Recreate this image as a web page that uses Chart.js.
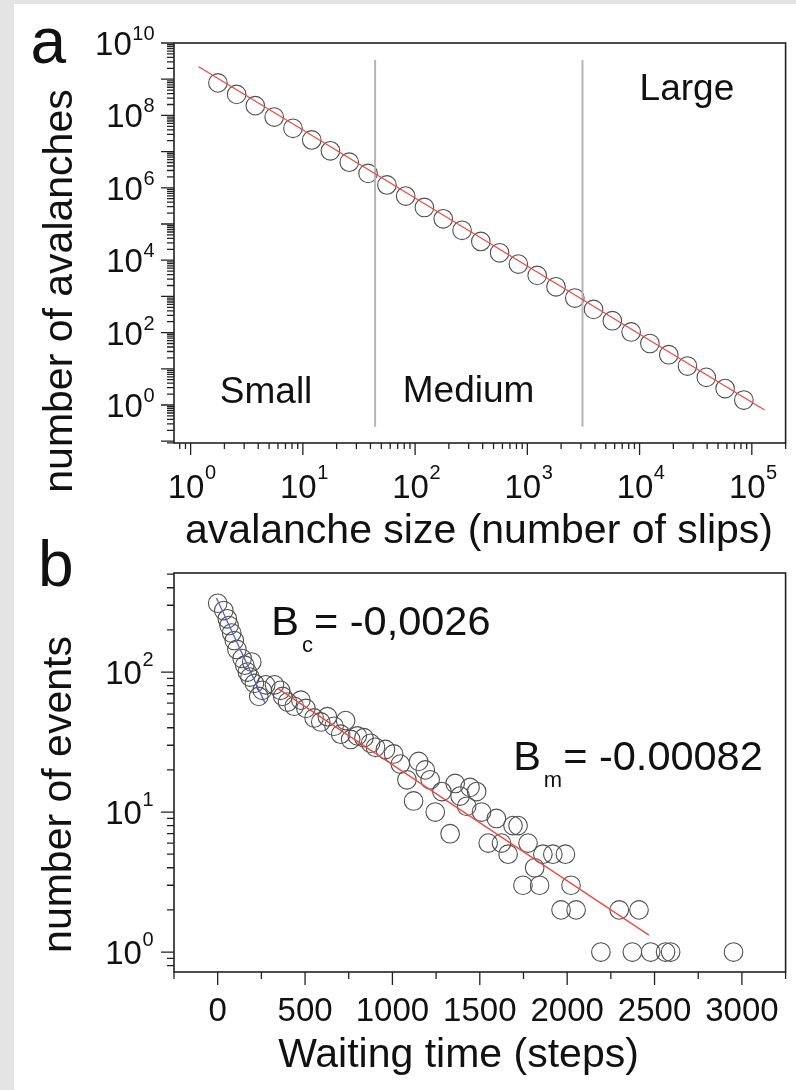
<!DOCTYPE html>
<html>
<head>
<meta charset="utf-8">
<script src="https://cdn.jsdelivr.net/npm/chart.js@4.4.1/dist/chart.umd.min.js"></script>
<style>
  html, body { margin:0; padding:0; }
  body { width:796px; height:1090px; background:#e4e4e4; position:relative; overflow:hidden; }
  #panel { position:absolute; left:14px; top:4px; right:0; bottom:0; background:#fff; }
  canvas { position:absolute; left:0; }
  #chartA { top:0; }
  #chartB { top:530px; }
</style>
</head>
<body>
<div id="panel"></div>
<canvas id="chartA" width="796" height="560"></canvas>
<canvas id="chartB" width="796" height="560"></canvas>
<script>
// ---- panel a : avalanche size distribution ----
const sizeA = [1.75, 2.57, 3.77, 5.55, 8.16, 12.0, 17.6, 25.9, 38.1, 56.1, 82.4, 121, 178, 262, 385,
               566, 832, 1224, 1800, 2648, 3890, 5720, 8410, 12360, 18200, 26700, 39300, 57800, 84900];
const countA = [7.9e8, 3.8e8, 1.86e8, 9.0e7, 4.4e7, 2.1e7, 1.05e7, 5.1e6, 2.5e6, 1.2e6, 5.9e5, 2.86e5, 1.39e5, 6.7e4, 3.3e4,
                1.6e4, 7800, 3800, 1840, 900, 437, 213, 104, 50, 24.5, 11.9, 5.8, 2.84, 1.37];
const fitAx = [1.18, 1.3e5];
const fitAy = [2.2e9, 0.73];
const borderSizes = [44, 3100];      // small|medium, medium|large
const borderSpan = [3.4e9, 0.25];
const regionNames = ['Small', 'Medium', 'Large'];
const regionX = [1.82, 77.6, 1.0e4];
const regionY = [1.13, 1.21, 2.7e8];
const aXTicks = [1, 10, 100, 1000, 10000, 100000];
const aXExp = ['0', '1', '2', '3', '4', '5'];
const aYTicks = [1, 1e2, 1e4, 1e6, 1e8, 1e10];
const aYExp = ['0', '2', '4', '6', '8', '10'];

// ---- panel b : waiting times ----
const waitB = [0, 35, 55, 65, 80, 95, 110, 140, 155, 170, 185, 195, 210, 235, 255, 275,
               325, 360, 372, 400, 438, 476, 505, 552, 590, 628, 666, 704, 732, 761, 799, 837, 875, 903,
               960, 1007, 1045, 1083, 1121, 1150, 1188, 1216, 1245, 1283, 1330, 1359, 1387, 1425, 1444,
               1482, 1510, 1548, 1595, 1624, 1662, 1690, 1719, 1747, 1776, 1814, 1842, 1861, 1918,
               1965, 1990, 2022, 2051, 2193, 2298, 2373, 2411, 2478, 2563, 2592, 2952];
const eventsB = [310, 275, 240, 215, 190, 168, 145, 125, 112, 100, 92, 118, 83, 67, 74, 81,
                 81, 74, 67, 61, 57, 63, 55, 47, 44, 48, 41, 36, 45, 33, 35, 34, 31, 29,
                 28, 26, 22, 17, 12, 23, 20, 17, 10, 14, 7, 16, 13, 11, 15,
                 14, 10, 6, 9, 6, 5, 8, 8, 3, 6, 4, 3, 5, 5,
                 2, 5, 3, 2, 1, 2, 1, 2, 1, 1, 1, 1];
const fitCx = [-7, 271];
const fitCy = [338, 60];
const fitMx = [343, 2468];
const fitMy = [76.5, 1.32];
const bXTicks = [0, 500, 1000, 1500, 2000, 2500, 3000];
const bXLabels = ['0', '500', '1000', '1500', '2000', '2500', '3000'];
const bYTicks = [1, 10, 100];
const bYExp = ['0', '1', '2'];

const FONT = '"Liberation Sans", Arial, Helvetica, sans-serif';
const INK = '#111';

function pts(xs, ys) { return xs.map((x, i) => ({ x: x, y: ys[i] })); }

function logTicks(min, max) {
  const major = [], minor = [];
  for (let e = Math.floor(Math.log10(min)); e <= Math.ceil(Math.log10(max)); e++) {
    const d = Math.pow(10, e);
    if (d >= min * 0.999 && d <= max * 1.001) major.push(d);
    for (let m = 2; m <= 9; m++) {
      const v = m * d;
      if (v >= min && v <= max * 1.001) minor.push(v);
    }
  }
  return { major, minor };
}

function drawBox(ctx, a) {
  ctx.strokeStyle = '#222';
  ctx.lineWidth = 1.6;
  ctx.strokeRect(a.left, a.top, a.right - a.left, a.bottom - a.top);
}

function tickMarks(ctx, a, scale, values, len, dir) {
  ctx.strokeStyle = '#222';
  ctx.lineWidth = 1.3;
  ctx.beginPath();
  values.forEach(v => {
    const p = scale.getPixelForValue(v);
    if (dir === 'x') { ctx.moveTo(p, a.bottom); ctx.lineTo(p, a.bottom + len); }
    else { ctx.moveTo(a.left, p); ctx.lineTo(a.left - len, p); }
  });
  ctx.stroke();
}

function powLabel(ctx, exp, x, baseY, expY, align) {
  ctx.font = '33px ' + FONT;
  const wb = ctx.measureText('10').width;
  ctx.font = '20px ' + FONT;
  const we = ctx.measureText(exp).width;
  const x0 = align === 'center' ? x - (wb + we) / 2 : x - (wb + we);
  ctx.fillStyle = INK;
  ctx.textAlign = 'left';
  ctx.textBaseline = 'alphabetic';
  ctx.font = '33px ' + FONT;
  ctx.fillText('10', x0, baseY);
  ctx.font = '20px ' + FONT;
  ctx.fillText(exp, x0 + wb + 0.5, expY);
}

function title(ctx, text, x, y, rotate) {
  ctx.save();
  ctx.fillStyle = INK;
  ctx.font = '41px ' + FONT;
  ctx.textAlign = 'center';
  ctx.textBaseline = 'alphabetic';
  ctx.translate(x, y);
  if (rotate) ctx.rotate(-Math.PI / 2);
  ctx.fillText(text, 0, 0);
  ctx.restore();
}

function panelLetter(ctx, t, x, y) {
  ctx.fillStyle = INK;
  ctx.font = '64px ' + FONT;
  ctx.textAlign = 'left';
  ctx.textBaseline = 'alphabetic';
  ctx.fillText(t, x, y);
}

function slopeLabel(ctx, sub, rest, x, y) {
  ctx.fillStyle = INK;
  ctx.textAlign = 'left';
  ctx.textBaseline = 'alphabetic';
  ctx.font = '41.5px ' + FONT;
  ctx.fillText('B', x, y);
  const wB = ctx.measureText('B').width;
  ctx.font = '22px ' + FONT;
  ctx.fillText(sub, x + wB + 3, y + 17.5);
  const ws = ctx.measureText(sub).width;
  ctx.font = '41.5px ' + FONT;
  ctx.fillText(rest, x + wB + 4 + ws, y);
}

function drawA(chart) {
  const ctx = chart.ctx, a = chart.chartArea, xs = chart.scales.x, ys = chart.scales.y;
  ctx.save();
  drawBox(ctx, a);
  const xt = logTicks(xs.min, xs.max), yt = logTicks(ys.min, ys.max);
  tickMarks(ctx, a, xs, xt.major, 12, 'x');
  tickMarks(ctx, a, xs, xt.minor, 6, 'x');
  tickMarks(ctx, a, ys, yt.major, 13, 'y');
  tickMarks(ctx, a, ys, yt.minor, 7, 'y');
  aXTicks.forEach((v, i) => powLabel(ctx, aXExp[i], xs.getPixelForValue(v) + 1, a.bottom + 55, a.bottom + 36, 'center'));
  aYTicks.forEach((v, i) => {
    const p = ys.getPixelForValue(v);
    powLabel(ctx, aYExp[i], 154, p + 12, p - 3, 'right');
  });
  // region names
  ctx.fillStyle = INK;
  ctx.font = '37px ' + FONT;
  ctx.textAlign = 'left';
  ctx.textBaseline = 'alphabetic';
  regionNames.forEach((t, i) => ctx.fillText(t, xs.getPixelForValue(regionX[i]), ys.getPixelForValue(regionY[i])));
  title(ctx, 'avalanche size (number of slips)', 479, 543, false);
  title(ctx, 'number of avalanches', 71.5, 291, true);
  panelLetter(ctx, 'a', 30.5, 62.5);
  ctx.restore();
}

function drawB(chart) {
  const ctx = chart.ctx, a = chart.chartArea, xs = chart.scales.x, ys = chart.scales.y;
  ctx.save();
  drawBox(ctx, a);
  const yt = logTicks(ys.min, ys.max);
  const xMinor = [];
  for (let v = -250; v <= 3250; v += 500) xMinor.push(v);
  tickMarks(ctx, a, xs, bXTicks, 13, 'x');
  tickMarks(ctx, a, xs, xMinor, 7, 'x');
  tickMarks(ctx, a, ys, yt.major, 13, 'y');
  tickMarks(ctx, a, ys, yt.minor, 7, 'y');
  ctx.fillStyle = INK;
  ctx.font = '33px ' + FONT;
  ctx.textAlign = 'center';
  ctx.textBaseline = 'alphabetic';
  bXTicks.forEach((v, i) => ctx.fillText(bXLabels[i], xs.getPixelForValue(v), a.bottom + 49));
  bYTicks.forEach((v, i) => {
    const p = ys.getPixelForValue(v);
    powLabel(ctx, bYExp[i], 153, p + 11.5, p - 6, 'right');
  });
  slopeLabel(ctx, 'c', '= -0,0026', xs.getPixelForValue(307), ys.getPixelForValue(184));
  slopeLabel(ctx, 'm', '= -0.00082', xs.getPixelForValue(1691), ys.getPixelForValue(20));
  title(ctx, 'Waiting time (steps)', 458.5, 537, false);
  title(ctx, 'number of events', 71, 264.5, true);
  panelLetter(ctx, 'b', 38, 56);
  ctx.restore();
}

function hiddenScale(type, min, max) {
  return { type: type, min: min, max: max, bounds: 'data',
           grid: { display: false, drawTicks: false, tickLength: 0 },
           border: { display: false }, ticks: { display: false, padding: 0 } };
}

function lineSet(data, color, width) {
  return { data: data, showLine: true, pointRadius: 0, borderColor: color, borderWidth: width, fill: false };
}

const circleStyle = { pointRadius: 9.3, pointBackgroundColor: 'rgba(255,255,255,0)',
                      pointBorderColor: '#505050', pointBorderWidth: 1.1, showLine: false };

const common = {
  responsive: false, animation: false, devicePixelRatio: 1, events: [],
  plugins: { legend: { display: false }, tooltip: { enabled: false } }
};

new Chart(document.getElementById('chartA').getContext('2d'), {
  type: 'scatter',
  data: {
    datasets: [
      lineSet(pts(fitAx, fitAy), '#ee4a40', 1.3),
      lineSet(pts([borderSizes[0], borderSizes[0]], borderSpan), '#b5b5b5', 2),
      lineSet(pts([borderSizes[1], borderSizes[1]], borderSpan), '#b5b5b5', 2),
      Object.assign({ data: pts(sizeA, countA) }, circleStyle)
    ]
  },
  options: Object.assign({}, common, {
    layout: { padding: { left: 174, top: 43, right: 7, bottom: 117 } },
    scales: { x: hiddenScale('logarithmic', 0.711, 2.0e5), y: hiddenScale('logarithmic', 0.0891, 1e10) }
  }),
  plugins: [{ id: 'decorA', afterDraw: drawA }]
});

new Chart(document.getElementById('chartB').getContext('2d'), {
  type: 'scatter',
  data: {
    datasets: [
      lineSet(pts(fitCx, fitCy), '#5468c4', 1.3),
      lineSet(pts(fitMx, fitMy), '#ee4a40', 1.3),
      Object.assign({ data: pts(waitB, eventsB) }, circleStyle)
    ]
  },
  options: Object.assign({}, common, {
    layout: { padding: { left: 174, top: 43, right: 7, bottom: 118 } },
    scales: { x: hiddenScale('linear', -250, 3250), y: hiddenScale('logarithmic', 0.72, 510) }
  }),
  plugins: [{ id: 'decorB', afterDraw: drawB }]
});
</script>
</body>
</html>
